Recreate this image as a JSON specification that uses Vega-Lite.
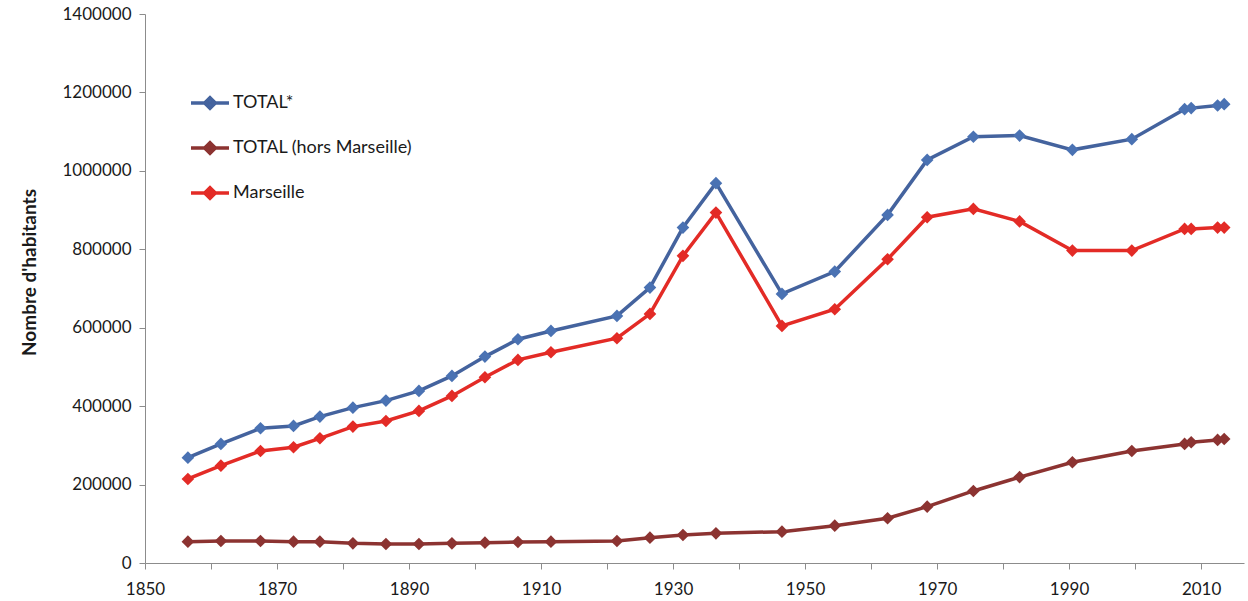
{
  "$schema": "https://vega.github.io/schema/vega-lite/v6.json",
  "width": 1099,
  "height": 549,
  "autosize": {"type": "none"},
  "padding": {"left": 145, "top": 14, "right": 4, "bottom": 38},
  "background": "white",
  "config": {
    "view": {"stroke": null},
    "font": "Lato",
    "axis": {"grid": false, "domainColor": "#8c8c8c", "tickColor": "#8c8c8c", "labelColor": "#1a1a1a", "labelFontSize": 17, "labelFont": "Lato", "titleFont": "Lato"}
  },
  "data": {
    "values": [
      {"annee": 1856.5, "serie": "TOTAL*", "pop": 268600},
      {"annee": 1861.5, "serie": "TOTAL*", "pop": 303600},
      {"annee": 1867.5, "serie": "TOTAL*", "pop": 343600},
      {"annee": 1872.5, "serie": "TOTAL*", "pop": 349500},
      {"annee": 1876.5, "serie": "TOTAL*", "pop": 373300},
      {"annee": 1881.5, "serie": "TOTAL*", "pop": 396200},
      {"annee": 1886.5, "serie": "TOTAL*", "pop": 414100},
      {"annee": 1891.5, "serie": "TOTAL*", "pop": 438800},
      {"annee": 1896.5, "serie": "TOTAL*", "pop": 477000},
      {"annee": 1901.5, "serie": "TOTAL*", "pop": 526300},
      {"annee": 1906.5, "serie": "TOTAL*", "pop": 570600},
      {"annee": 1911.5, "serie": "TOTAL*", "pop": 591800},
      {"annee": 1921.5, "serie": "TOTAL*", "pop": 630100},
      {"annee": 1926.5, "serie": "TOTAL*", "pop": 702300},
      {"annee": 1931.5, "serie": "TOTAL*", "pop": 855400},
      {"annee": 1936.5, "serie": "TOTAL*", "pop": 968600},
      {"annee": 1946.5, "serie": "TOTAL*", "pop": 686200},
      {"annee": 1954.5, "serie": "TOTAL*", "pop": 743200},
      {"annee": 1962.5, "serie": "TOTAL*", "pop": 887700},
      {"annee": 1968.5, "serie": "TOTAL*", "pop": 1028000},
      {"annee": 1975.5, "serie": "TOTAL*", "pop": 1087000},
      {"annee": 1982.5, "serie": "TOTAL*", "pop": 1090000},
      {"annee": 1990.5, "serie": "TOTAL*", "pop": 1053600},
      {"annee": 1999.5, "serie": "TOTAL*", "pop": 1080800},
      {"annee": 2007.5, "serie": "TOTAL*", "pop": 1157400},
      {"annee": 2008.5, "serie": "TOTAL*", "pop": 1160000},
      {"annee": 2012.5, "serie": "TOTAL*", "pop": 1166600},
      {"annee": 2013.5, "serie": "TOTAL*", "pop": 1170000},
      {"annee": 1856.5, "serie": "TOTAL (hors Marseille)", "pop": 54400},
      {"annee": 1861.5, "serie": "TOTAL (hors Marseille)", "pop": 56100},
      {"annee": 1867.5, "serie": "TOTAL (hors Marseille)", "pop": 56100},
      {"annee": 1872.5, "serie": "TOTAL (hors Marseille)", "pop": 54400},
      {"annee": 1876.5, "serie": "TOTAL (hors Marseille)", "pop": 54400},
      {"annee": 1881.5, "serie": "TOTAL (hors Marseille)", "pop": 50200},
      {"annee": 1886.5, "serie": "TOTAL (hors Marseille)", "pop": 48500},
      {"annee": 1891.5, "serie": "TOTAL (hors Marseille)", "pop": 48500},
      {"annee": 1896.5, "serie": "TOTAL (hors Marseille)", "pop": 50200},
      {"annee": 1901.5, "serie": "TOTAL (hors Marseille)", "pop": 51800},
      {"annee": 1906.5, "serie": "TOTAL (hors Marseille)", "pop": 53600},
      {"annee": 1911.5, "serie": "TOTAL (hors Marseille)", "pop": 54400},
      {"annee": 1921.5, "serie": "TOTAL (hors Marseille)", "pop": 56100},
      {"annee": 1926.5, "serie": "TOTAL (hors Marseille)", "pop": 64600},
      {"annee": 1931.5, "serie": "TOTAL (hors Marseille)", "pop": 71400},
      {"annee": 1936.5, "serie": "TOTAL (hors Marseille)", "pop": 75700},
      {"annee": 1946.5, "serie": "TOTAL (hors Marseille)", "pop": 79900},
      {"annee": 1954.5, "serie": "TOTAL (hors Marseille)", "pop": 95200},
      {"annee": 1962.5, "serie": "TOTAL (hors Marseille)", "pop": 114000},
      {"annee": 1968.5, "serie": "TOTAL (hors Marseille)", "pop": 143700},
      {"annee": 1975.5, "serie": "TOTAL (hors Marseille)", "pop": 183700},
      {"annee": 1982.5, "serie": "TOTAL (hors Marseille)", "pop": 219000},
      {"annee": 1990.5, "serie": "TOTAL (hors Marseille)", "pop": 256900},
      {"annee": 1999.5, "serie": "TOTAL (hors Marseille)", "pop": 285700},
      {"annee": 2007.5, "serie": "TOTAL (hors Marseille)", "pop": 303600},
      {"annee": 2008.5, "serie": "TOTAL (hors Marseille)", "pop": 307900},
      {"annee": 2012.5, "serie": "TOTAL (hors Marseille)", "pop": 313800},
      {"annee": 2013.5, "serie": "TOTAL (hors Marseille)", "pop": 316300},
      {"annee": 1856.5, "serie": "Marseille", "pop": 214300},
      {"annee": 1861.5, "serie": "Marseille", "pop": 248300},
      {"annee": 1867.5, "serie": "Marseille", "pop": 285700},
      {"annee": 1872.5, "serie": "Marseille", "pop": 295100},
      {"annee": 1876.5, "serie": "Marseille", "pop": 318000},
      {"annee": 1881.5, "serie": "Marseille", "pop": 347800},
      {"annee": 1886.5, "serie": "Marseille", "pop": 362200},
      {"annee": 1891.5, "serie": "Marseille", "pop": 387800},
      {"annee": 1896.5, "serie": "Marseille", "pop": 426000},
      {"annee": 1901.5, "serie": "Marseille", "pop": 473700},
      {"annee": 1906.5, "serie": "Marseille", "pop": 517900},
      {"annee": 1911.5, "serie": "Marseille", "pop": 537500},
      {"annee": 1921.5, "serie": "Marseille", "pop": 573200},
      {"annee": 1926.5, "serie": "Marseille", "pop": 635200},
      {"annee": 1931.5, "serie": "Marseille", "pop": 783200},
      {"annee": 1936.5, "serie": "Marseille", "pop": 893600},
      {"annee": 1946.5, "serie": "Marseille", "pop": 604600},
      {"annee": 1954.5, "serie": "Marseille", "pop": 647100},
      {"annee": 1962.5, "serie": "Marseille", "pop": 774700},
      {"annee": 1968.5, "serie": "Marseille", "pop": 881800},
      {"annee": 1975.5, "serie": "Marseille", "pop": 903000},
      {"annee": 1982.5, "serie": "Marseille", "pop": 871000},
      {"annee": 1990.5, "serie": "Marseille", "pop": 796700},
      {"annee": 1999.5, "serie": "Marseille", "pop": 796700},
      {"annee": 2007.5, "serie": "Marseille", "pop": 852000},
      {"annee": 2008.5, "serie": "Marseille", "pop": 852000},
      {"annee": 2012.5, "serie": "Marseille", "pop": 855400},
      {"annee": 2013.5, "serie": "Marseille", "pop": 855400}
    ]
  },
  "encoding": {
    "x": {
      "field": "annee", "type": "quantitative",
      "scale": {"domain": [1850, 2016.5], "nice": false, "zero": false},
      "axis": {
        "title": null,
        "values": [1850, 1860, 1870, 1880, 1890, 1900, 1910, 1920, 1930, 1940, 1950, 1960, 1970, 1980, 1990, 2000, 2010],
        "format": "d",
        "labelExpr": "datum.value % 20 == 0 ? '' : datum.label",
        "tickSize": 6, "labelPadding": 12, "labelFlush": false, "labelOverlap": false
      }
    },
    "y": {
      "field": "pop", "type": "quantitative",
      "scale": {"domain": [0, 1400000], "nice": false},
      "axis": {
        "title": "Nombre d'habitants",
        "values": [0, 200000, 400000, 600000, 800000, 1000000, 1200000, 1400000],
        "format": "d",
        "tickSize": 6, "labelPadding": 8,
        "titleFontSize": 19, "titleFontWeight": "bold", "titleColor": "#1a1a1a", "titlePadding": 22, "titleY": 258
      }
    }
  },
  "layer": [
    {
      "mark": {"type": "line", "strokeWidth": 3.5},
      "encoding": {
        "stroke": {
          "field": "serie", "type": "nominal",
          "scale": {"domain": ["TOTAL*", "TOTAL (hors Marseille)", "Marseille"], "range": ["#44639e", "#8c3331", "#e32b26"]},
          "legend": {
            "orient": "none", "legendX": 44, "legendY": 68, "title": null, "padding": 0,
            "symbolType": "M-1,0H1M0,-0.28L0.28,0L0,0.28L-0.28,0Z",
            "symbolSize": 1444, "symbolStrokeWidth": 3.5,
            "labelFontSize": 18, "labelFont": "Lato", "labelColor": "#1a1a1a", "labelOffset": 2, "rowPadding": 11, "labelLimit": 400,
            "encode": {"symbols": {"update": {"fill": {"scale": "fill", "field": "value"}, "stroke": {"scale": "stroke", "field": "value"}, "opacity": {"value": 1}}}}
          }
        }
      }
    },
    {
      "mark": {"type": "point", "shape": "diamond", "filled": true, "size": 160, "opacity": 1},
      "encoding": {
        "fill": {
          "field": "serie", "type": "nominal",
          "scale": {"domain": ["TOTAL*", "TOTAL (hors Marseille)", "Marseille"], "range": ["#4a72b3", "#8c3331", "#e32b26"]},
          "legend": null
        }
      }
    }
  ]
}
